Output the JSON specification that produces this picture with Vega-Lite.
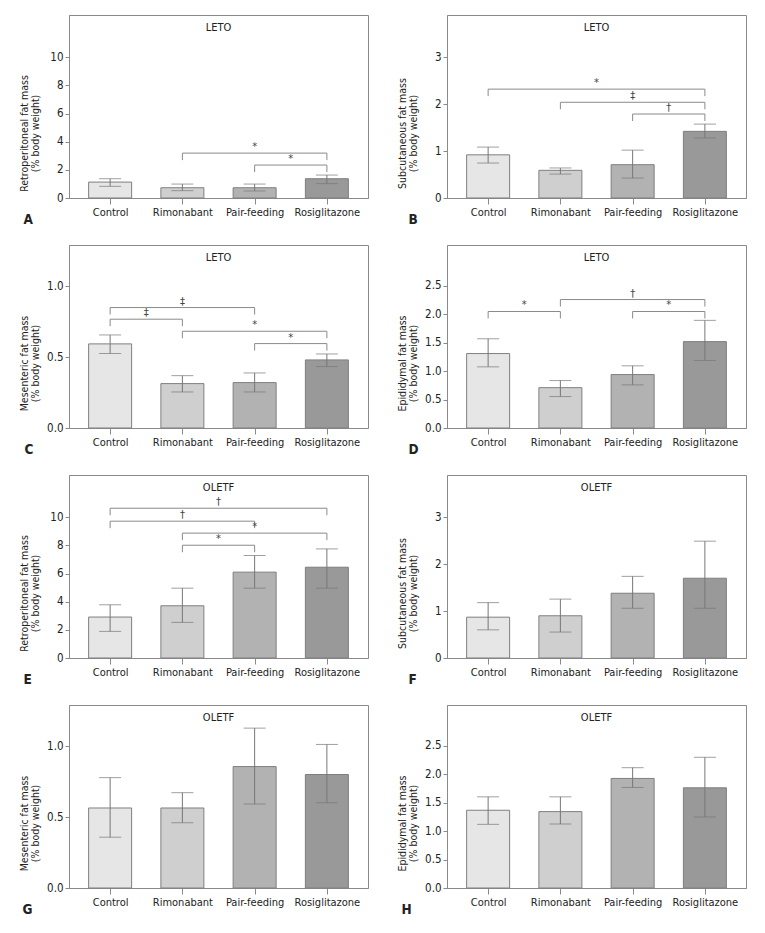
{
"$schema":"https://vega.github.io/schema/vega-lite/v6.json",
"padding":{"left":18,"top":14,"right":5,"bottom":5},
"background":"white",
"columns":2,
"spacing":{"row":47,"column":79},
"bounds":"flush",
"datasets":{
"bars":[
{"panel":"A","group":"Control","i":0,"mean":1.13,"lo":0.83,"hi":1.37},
{"panel":"A","group":"Rimonabant","i":1,"mean":0.73,"lo":0.52,"hi":0.99},
{"panel":"A","group":"Pair-feeding","i":2,"mean":0.73,"lo":0.50,"hi":0.99},
{"panel":"A","group":"Rosiglitazone","i":3,"mean":1.37,"lo":1.02,"hi":1.63},
{"panel":"B","group":"Control","i":0,"mean":0.92,"lo":0.745,"hi":1.085},
{"panel":"B","group":"Rimonabant","i":1,"mean":0.59,"lo":0.51,"hi":0.64},
{"panel":"B","group":"Pair-feeding","i":2,"mean":0.71,"lo":0.425,"hi":1.02},
{"panel":"B","group":"Rosiglitazone","i":3,"mean":1.42,"lo":1.28,"hi":1.575},
{"panel":"C","group":"Control","i":0,"mean":0.593,"lo":0.525,"hi":0.656},
{"panel":"C","group":"Rimonabant","i":1,"mean":0.313,"lo":0.254,"hi":0.369},
{"panel":"C","group":"Pair-feeding","i":2,"mean":0.32,"lo":0.254,"hi":0.388},
{"panel":"C","group":"Rosiglitazone","i":3,"mean":0.48,"lo":0.433,"hi":0.522},
{"panel":"D","group":"Control","i":0,"mean":1.31,"lo":1.076,"hi":1.57},
{"panel":"D","group":"Rimonabant","i":1,"mean":0.71,"lo":0.553,"hi":0.835},
{"panel":"D","group":"Pair-feeding","i":2,"mean":0.94,"lo":0.759,"hi":1.094},
{"panel":"D","group":"Rosiglitazone","i":3,"mean":1.52,"lo":1.188,"hi":1.894},
{"panel":"E","group":"Control","i":0,"mean":2.91,"lo":1.89,"hi":3.78},
{"panel":"E","group":"Rimonabant","i":1,"mean":3.71,"lo":2.53,"hi":4.96},
{"panel":"E","group":"Pair-feeding","i":2,"mean":6.10,"lo":4.96,"hi":7.28},
{"panel":"E","group":"Rosiglitazone","i":3,"mean":6.45,"lo":4.96,"hi":7.75},
{"panel":"F","group":"Control","i":0,"mean":0.87,"lo":0.6,"hi":1.18},
{"panel":"F","group":"Rimonabant","i":1,"mean":0.90,"lo":0.553,"hi":1.255},
{"panel":"F","group":"Pair-feeding","i":2,"mean":1.38,"lo":1.06,"hi":1.74},
{"panel":"F","group":"Rosiglitazone","i":3,"mean":1.70,"lo":1.06,"hi":2.49},
{"panel":"G","group":"Control","i":0,"mean":0.564,"lo":0.358,"hi":0.778},
{"panel":"G","group":"Rimonabant","i":1,"mean":0.564,"lo":0.46,"hi":0.672},
{"panel":"G","group":"Pair-feeding","i":2,"mean":0.856,"lo":0.592,"hi":1.127},
{"panel":"G","group":"Rosiglitazone","i":3,"mean":0.80,"lo":0.601,"hi":1.012},
{"panel":"H","group":"Control","i":0,"mean":1.368,"lo":1.12,"hi":1.604},
{"panel":"H","group":"Rimonabant","i":1,"mean":1.344,"lo":1.126,"hi":1.604},
{"panel":"H","group":"Pair-feeding","i":2,"mean":1.928,"lo":1.769,"hi":2.117},
{"panel":"H","group":"Rosiglitazone","i":3,"mean":1.763,"lo":1.25,"hi":2.30}
],
"brackets":[
{"panel":"A","x1":1,"x2":3,"xm":2,"level":3.19,"sym":"*"},
{"panel":"A","x1":2,"x2":3,"xm":2.5,"level":2.34,"sym":"*"},
{"panel":"B","x1":0,"x2":3,"xm":1.5,"level":2.32,"sym":"*"},
{"panel":"B","x1":1,"x2":3,"xm":2,"level":2.04,"sym":"‡"},
{"panel":"B","x1":2,"x2":3,"xm":2.5,"level":1.79,"sym":"†"},
{"panel":"C","x1":0,"x2":2,"xm":1,"level":0.849,"sym":"‡"},
{"panel":"C","x1":0,"x2":1,"xm":0.5,"level":0.767,"sym":"‡"},
{"panel":"C","x1":1,"x2":3,"xm":2,"level":0.682,"sym":"*"},
{"panel":"C","x1":2,"x2":3,"xm":2.5,"level":0.595,"sym":"*"},
{"panel":"D","x1":1,"x2":3,"xm":2,"level":2.26,"sym":"†"},
{"panel":"D","x1":0,"x2":1,"xm":0.5,"level":2.05,"sym":"*"},
{"panel":"D","x1":2,"x2":3,"xm":2.5,"level":2.05,"sym":"*"},
{"panel":"E","x1":0,"x2":3,"xm":1.5,"level":10.64,"sym":"†"},
{"panel":"E","x1":0,"x2":2,"xm":1,"level":9.72,"sym":"†"},
{"panel":"E","x1":1,"x2":3,"xm":2,"level":8.87,"sym":"*"},
{"panel":"E","x1":1,"x2":2,"xm":1.5,"level":8.01,"sym":"*"}
]
},
"concat":[
{"width":299,"height":183,"title":{"text":"LETO"},
 "layer":[
  {"data":{"name":"bars"},"transform":[{"filter":"datum.panel==='A'"}],
   "layer":[
    {"mark":{"type":"bar","width":43,"stroke":"#7f7f7f","strokeWidth":1},
     "encoding":{
      "x":{"field":"i","type":"quantitative","scale":{"domain":[-0.5,3.5],"nice":false,"zero":false},"axis":{"values":[0,1,2,3],"labelExpr":"['Control','Rimonabant','Pair-feeding','Rosiglitazone'][datum.value]","title":"A","titleX":-46,"titleY":25}},
      "y":{"field":"mean","type":"quantitative","scale":{"domain":[0,13],"nice":false},"axis":{"values":[0,2,4,6,8,10],"format":"d","title":["Retroperitoneal fat mass","(% body weight)"]}},
      "color":{"field":"group","type":"nominal","scale":{"domain":["Control","Rimonabant","Pair-feeding","Rosiglitazone"],"range":["#e6e6e6","#cfcfcf","#b2b2b2","#999999"]},"legend":null}}},
    {"mark":{"type":"rule","color":"#777777"},"encoding":{"x":{"field":"i","type":"quantitative"},"y":{"field":"lo","type":"quantitative"},"y2":{"field":"hi"}}},
    {"mark":{"type":"tick","orient":"horizontal","size":22,"thickness":1,"color":"#777777"},"encoding":{"x":{"field":"i","type":"quantitative"},"y":{"field":"hi","type":"quantitative"}}},
    {"mark":{"type":"tick","orient":"horizontal","size":22,"thickness":1,"color":"#777777"},"encoding":{"x":{"field":"i","type":"quantitative"},"y":{"field":"lo","type":"quantitative"}}}
   ]},
  {"data":{"name":"brackets"},"transform":[{"filter":"datum.panel==='A'"}],
   "layer":[
    {"mark":{"type":"rule","color":"#8a8a8a"},"encoding":{"x":{"field":"x1","type":"quantitative"},"x2":{"field":"x2"},"y":{"field":"level","type":"quantitative"}}},
    {"mark":{"type":"rule","color":"#8a8a8a","y2Offset":7},"encoding":{"x":{"field":"x1","type":"quantitative"},"y":{"field":"level","type":"quantitative"},"y2":{"field":"level"}}},
    {"mark":{"type":"rule","color":"#8a8a8a","y2Offset":7},"encoding":{"x":{"field":"x2","type":"quantitative"},"y":{"field":"level","type":"quantitative"},"y2":{"field":"level"}}},
    {"mark":{"type":"text","baseline":"bottom","dy":-1,"fontSize":11,"color":"#444444"},"encoding":{"x":{"field":"xm","type":"quantitative"},"y":{"field":"level","type":"quantitative"},"text":{"field":"sym"}}}
   ]}
 ]},
{"width":299,"height":183,"title":{"text":"LETO"},
 "layer":[
  {"data":{"name":"bars"},"transform":[{"filter":"datum.panel==='B'"}],
   "layer":[
    {"mark":{"type":"bar","width":43,"stroke":"#7f7f7f","strokeWidth":1},
     "encoding":{
      "x":{"field":"i","type":"quantitative","scale":{"domain":[-0.5,3.5],"nice":false,"zero":false},"axis":{"values":[0,1,2,3],"labelExpr":"['Control','Rimonabant','Pair-feeding','Rosiglitazone'][datum.value]","title":"B","titleX":-39,"titleY":25}},
      "y":{"field":"mean","type":"quantitative","scale":{"domain":[0,3.9],"nice":false},"axis":{"values":[0,1,2,3],"format":"d","title":["Subcutaneous fat mass","(% body weight)"]}},
      "color":{"field":"group","type":"nominal","scale":{"domain":["Control","Rimonabant","Pair-feeding","Rosiglitazone"],"range":["#e6e6e6","#cfcfcf","#b2b2b2","#999999"]},"legend":null}}},
    {"mark":{"type":"rule","color":"#777777"},"encoding":{"x":{"field":"i","type":"quantitative"},"y":{"field":"lo","type":"quantitative"},"y2":{"field":"hi"}}},
    {"mark":{"type":"tick","orient":"horizontal","size":22,"thickness":1,"color":"#777777"},"encoding":{"x":{"field":"i","type":"quantitative"},"y":{"field":"hi","type":"quantitative"}}},
    {"mark":{"type":"tick","orient":"horizontal","size":22,"thickness":1,"color":"#777777"},"encoding":{"x":{"field":"i","type":"quantitative"},"y":{"field":"lo","type":"quantitative"}}}
   ]},
  {"data":{"name":"brackets"},"transform":[{"filter":"datum.panel==='B'"}],
   "layer":[
    {"mark":{"type":"rule","color":"#8a8a8a"},"encoding":{"x":{"field":"x1","type":"quantitative"},"x2":{"field":"x2"},"y":{"field":"level","type":"quantitative"}}},
    {"mark":{"type":"rule","color":"#8a8a8a","y2Offset":7},"encoding":{"x":{"field":"x1","type":"quantitative"},"y":{"field":"level","type":"quantitative"},"y2":{"field":"level"}}},
    {"mark":{"type":"rule","color":"#8a8a8a","y2Offset":7},"encoding":{"x":{"field":"x2","type":"quantitative"},"y":{"field":"level","type":"quantitative"},"y2":{"field":"level"}}},
    {"mark":{"type":"text","baseline":"bottom","dy":-1,"fontSize":11,"color":"#444444"},"encoding":{"x":{"field":"xm","type":"quantitative"},"y":{"field":"level","type":"quantitative"},"text":{"field":"sym"}}}
   ]}
 ]},
{"width":299,"height":183,"title":{"text":"LETO"},
 "layer":[
  {"data":{"name":"bars"},"transform":[{"filter":"datum.panel==='C'"}],
   "layer":[
    {"mark":{"type":"bar","width":43,"stroke":"#7f7f7f","strokeWidth":1},
     "encoding":{
      "x":{"field":"i","type":"quantitative","scale":{"domain":[-0.5,3.5],"nice":false,"zero":false},"axis":{"values":[0,1,2,3],"labelExpr":"['Control','Rimonabant','Pair-feeding','Rosiglitazone'][datum.value]","title":"C","titleX":-45,"titleY":25}},
      "y":{"field":"mean","type":"quantitative","scale":{"domain":[0,1.29],"nice":false},"axis":{"values":[0,0.5,1],"format":".1f","title":["Mesenteric fat mass","(% body weight)"]}},
      "color":{"field":"group","type":"nominal","scale":{"domain":["Control","Rimonabant","Pair-feeding","Rosiglitazone"],"range":["#e6e6e6","#cfcfcf","#b2b2b2","#999999"]},"legend":null}}},
    {"mark":{"type":"rule","color":"#777777"},"encoding":{"x":{"field":"i","type":"quantitative"},"y":{"field":"lo","type":"quantitative"},"y2":{"field":"hi"}}},
    {"mark":{"type":"tick","orient":"horizontal","size":22,"thickness":1,"color":"#777777"},"encoding":{"x":{"field":"i","type":"quantitative"},"y":{"field":"hi","type":"quantitative"}}},
    {"mark":{"type":"tick","orient":"horizontal","size":22,"thickness":1,"color":"#777777"},"encoding":{"x":{"field":"i","type":"quantitative"},"y":{"field":"lo","type":"quantitative"}}}
   ]},
  {"data":{"name":"brackets"},"transform":[{"filter":"datum.panel==='C'"}],
   "layer":[
    {"mark":{"type":"rule","color":"#8a8a8a"},"encoding":{"x":{"field":"x1","type":"quantitative"},"x2":{"field":"x2"},"y":{"field":"level","type":"quantitative"}}},
    {"mark":{"type":"rule","color":"#8a8a8a","y2Offset":7},"encoding":{"x":{"field":"x1","type":"quantitative"},"y":{"field":"level","type":"quantitative"},"y2":{"field":"level"}}},
    {"mark":{"type":"rule","color":"#8a8a8a","y2Offset":7},"encoding":{"x":{"field":"x2","type":"quantitative"},"y":{"field":"level","type":"quantitative"},"y2":{"field":"level"}}},
    {"mark":{"type":"text","baseline":"bottom","dy":-1,"fontSize":11,"color":"#444444"},"encoding":{"x":{"field":"xm","type":"quantitative"},"y":{"field":"level","type":"quantitative"},"text":{"field":"sym"}}}
   ]}
 ]},
{"width":299,"height":183,"title":{"text":"LETO"},
 "layer":[
  {"data":{"name":"bars"},"transform":[{"filter":"datum.panel==='D'"}],
   "layer":[
    {"mark":{"type":"bar","width":43,"stroke":"#7f7f7f","strokeWidth":1},
     "encoding":{
      "x":{"field":"i","type":"quantitative","scale":{"domain":[-0.5,3.5],"nice":false,"zero":false},"axis":{"values":[0,1,2,3],"labelExpr":"['Control','Rimonabant','Pair-feeding','Rosiglitazone'][datum.value]","title":"D","titleX":-39,"titleY":25}},
      "y":{"field":"mean","type":"quantitative","scale":{"domain":[0,3.22],"nice":false},"axis":{"values":[0,0.5,1,1.5,2,2.5],"format":".1f","title":["Epididymal fat mass","(% body weight)"]}},
      "color":{"field":"group","type":"nominal","scale":{"domain":["Control","Rimonabant","Pair-feeding","Rosiglitazone"],"range":["#e6e6e6","#cfcfcf","#b2b2b2","#999999"]},"legend":null}}},
    {"mark":{"type":"rule","color":"#777777"},"encoding":{"x":{"field":"i","type":"quantitative"},"y":{"field":"lo","type":"quantitative"},"y2":{"field":"hi"}}},
    {"mark":{"type":"tick","orient":"horizontal","size":22,"thickness":1,"color":"#777777"},"encoding":{"x":{"field":"i","type":"quantitative"},"y":{"field":"hi","type":"quantitative"}}},
    {"mark":{"type":"tick","orient":"horizontal","size":22,"thickness":1,"color":"#777777"},"encoding":{"x":{"field":"i","type":"quantitative"},"y":{"field":"lo","type":"quantitative"}}}
   ]},
  {"data":{"name":"brackets"},"transform":[{"filter":"datum.panel==='D'"}],
   "layer":[
    {"mark":{"type":"rule","color":"#8a8a8a"},"encoding":{"x":{"field":"x1","type":"quantitative"},"x2":{"field":"x2"},"y":{"field":"level","type":"quantitative"}}},
    {"mark":{"type":"rule","color":"#8a8a8a","y2Offset":7},"encoding":{"x":{"field":"x1","type":"quantitative"},"y":{"field":"level","type":"quantitative"},"y2":{"field":"level"}}},
    {"mark":{"type":"rule","color":"#8a8a8a","y2Offset":7},"encoding":{"x":{"field":"x2","type":"quantitative"},"y":{"field":"level","type":"quantitative"},"y2":{"field":"level"}}},
    {"mark":{"type":"text","baseline":"bottom","dy":-1,"fontSize":11,"color":"#444444"},"encoding":{"x":{"field":"xm","type":"quantitative"},"y":{"field":"level","type":"quantitative"},"text":{"field":"sym"}}}
   ]}
 ]},
{"width":299,"height":183,"title":{"text":"OLETF"},
 "layer":[
  {"data":{"name":"bars"},"transform":[{"filter":"datum.panel==='E'"}],
   "layer":[
    {"mark":{"type":"bar","width":43,"stroke":"#7f7f7f","strokeWidth":1},
     "encoding":{
      "x":{"field":"i","type":"quantitative","scale":{"domain":[-0.5,3.5],"nice":false,"zero":false},"axis":{"values":[0,1,2,3],"labelExpr":"['Control','Rimonabant','Pair-feeding','Rosiglitazone'][datum.value]","title":"E","titleX":-46,"titleY":25}},
      "y":{"field":"mean","type":"quantitative","scale":{"domain":[0,13],"nice":false},"axis":{"values":[0,2,4,6,8,10],"format":"d","title":["Retroperitoneal fat mass","(% body weight)"]}},
      "color":{"field":"group","type":"nominal","scale":{"domain":["Control","Rimonabant","Pair-feeding","Rosiglitazone"],"range":["#e6e6e6","#cfcfcf","#b2b2b2","#999999"]},"legend":null}}},
    {"mark":{"type":"rule","color":"#777777"},"encoding":{"x":{"field":"i","type":"quantitative"},"y":{"field":"lo","type":"quantitative"},"y2":{"field":"hi"}}},
    {"mark":{"type":"tick","orient":"horizontal","size":22,"thickness":1,"color":"#777777"},"encoding":{"x":{"field":"i","type":"quantitative"},"y":{"field":"hi","type":"quantitative"}}},
    {"mark":{"type":"tick","orient":"horizontal","size":22,"thickness":1,"color":"#777777"},"encoding":{"x":{"field":"i","type":"quantitative"},"y":{"field":"lo","type":"quantitative"}}}
   ]},
  {"data":{"name":"brackets"},"transform":[{"filter":"datum.panel==='E'"}],
   "layer":[
    {"mark":{"type":"rule","color":"#8a8a8a"},"encoding":{"x":{"field":"x1","type":"quantitative"},"x2":{"field":"x2"},"y":{"field":"level","type":"quantitative"}}},
    {"mark":{"type":"rule","color":"#8a8a8a","y2Offset":7},"encoding":{"x":{"field":"x1","type":"quantitative"},"y":{"field":"level","type":"quantitative"},"y2":{"field":"level"}}},
    {"mark":{"type":"rule","color":"#8a8a8a","y2Offset":7},"encoding":{"x":{"field":"x2","type":"quantitative"},"y":{"field":"level","type":"quantitative"},"y2":{"field":"level"}}},
    {"mark":{"type":"text","baseline":"bottom","dy":-1,"fontSize":11,"color":"#444444"},"encoding":{"x":{"field":"xm","type":"quantitative"},"y":{"field":"level","type":"quantitative"},"text":{"field":"sym"}}}
   ]}
 ]},
{"width":299,"height":183,"title":{"text":"OLETF"},
 "data":{"name":"bars"},"transform":[{"filter":"datum.panel==='F'"}],
 "layer":[
    {"mark":{"type":"bar","width":43,"stroke":"#7f7f7f","strokeWidth":1},
     "encoding":{
      "x":{"field":"i","type":"quantitative","scale":{"domain":[-0.5,3.5],"nice":false,"zero":false},"axis":{"values":[0,1,2,3],"labelExpr":"['Control','Rimonabant','Pair-feeding','Rosiglitazone'][datum.value]","title":"F","titleX":-39,"titleY":25}},
      "y":{"field":"mean","type":"quantitative","scale":{"domain":[0,3.9],"nice":false},"axis":{"values":[0,1,2,3],"format":"d","title":["Subcutaneous fat mass","(% body weight)"]}},
      "color":{"field":"group","type":"nominal","scale":{"domain":["Control","Rimonabant","Pair-feeding","Rosiglitazone"],"range":["#e6e6e6","#cfcfcf","#b2b2b2","#999999"]},"legend":null}}},
    {"mark":{"type":"rule","color":"#777777"},"encoding":{"x":{"field":"i","type":"quantitative"},"y":{"field":"lo","type":"quantitative"},"y2":{"field":"hi"}}},
    {"mark":{"type":"tick","orient":"horizontal","size":22,"thickness":1,"color":"#777777"},"encoding":{"x":{"field":"i","type":"quantitative"},"y":{"field":"hi","type":"quantitative"}}},
    {"mark":{"type":"tick","orient":"horizontal","size":22,"thickness":1,"color":"#777777"},"encoding":{"x":{"field":"i","type":"quantitative"},"y":{"field":"lo","type":"quantitative"}}}
 ]},
{"width":299,"height":183,"title":{"text":"OLETF"},
 "data":{"name":"bars"},"transform":[{"filter":"datum.panel==='G'"}],
 "layer":[
    {"mark":{"type":"bar","width":43,"stroke":"#7f7f7f","strokeWidth":1},
     "encoding":{
      "x":{"field":"i","type":"quantitative","scale":{"domain":[-0.5,3.5],"nice":false,"zero":false},"axis":{"values":[0,1,2,3],"labelExpr":"['Control','Rimonabant','Pair-feeding','Rosiglitazone'][datum.value]","title":"G","titleX":-47,"titleY":25}},
      "y":{"field":"mean","type":"quantitative","scale":{"domain":[0,1.29],"nice":false},"axis":{"values":[0,0.5,1],"format":".1f","title":["Mesenteric fat mass","(% body weight)"]}},
      "color":{"field":"group","type":"nominal","scale":{"domain":["Control","Rimonabant","Pair-feeding","Rosiglitazone"],"range":["#e6e6e6","#cfcfcf","#b2b2b2","#999999"]},"legend":null}}},
    {"mark":{"type":"rule","color":"#777777"},"encoding":{"x":{"field":"i","type":"quantitative"},"y":{"field":"lo","type":"quantitative"},"y2":{"field":"hi"}}},
    {"mark":{"type":"tick","orient":"horizontal","size":22,"thickness":1,"color":"#777777"},"encoding":{"x":{"field":"i","type":"quantitative"},"y":{"field":"hi","type":"quantitative"}}},
    {"mark":{"type":"tick","orient":"horizontal","size":22,"thickness":1,"color":"#777777"},"encoding":{"x":{"field":"i","type":"quantitative"},"y":{"field":"lo","type":"quantitative"}}}
 ]},
{"width":299,"height":183,"title":{"text":"OLETF"},
 "data":{"name":"bars"},"transform":[{"filter":"datum.panel==='H'"}],
 "layer":[
    {"mark":{"type":"bar","width":43,"stroke":"#7f7f7f","strokeWidth":1},
     "encoding":{
      "x":{"field":"i","type":"quantitative","scale":{"domain":[-0.5,3.5],"nice":false,"zero":false},"axis":{"values":[0,1,2,3],"labelExpr":"['Control','Rimonabant','Pair-feeding','Rosiglitazone'][datum.value]","title":"H","titleX":-46,"titleY":25}},
      "y":{"field":"mean","type":"quantitative","scale":{"domain":[0,3.22],"nice":false},"axis":{"values":[0,0.5,1,1.5,2,2.5],"format":".1f","title":["Epididymal fat mass","(% body weight)"]}},
      "color":{"field":"group","type":"nominal","scale":{"domain":["Control","Rimonabant","Pair-feeding","Rosiglitazone"],"range":["#e6e6e6","#cfcfcf","#b2b2b2","#999999"]},"legend":null}}},
    {"mark":{"type":"rule","color":"#777777"},"encoding":{"x":{"field":"i","type":"quantitative"},"y":{"field":"lo","type":"quantitative"},"y2":{"field":"hi"}}},
    {"mark":{"type":"tick","orient":"horizontal","size":22,"thickness":1,"color":"#777777"},"encoding":{"x":{"field":"i","type":"quantitative"},"y":{"field":"hi","type":"quantitative"}}},
    {"mark":{"type":"tick","orient":"horizontal","size":22,"thickness":1,"color":"#777777"},"encoding":{"x":{"field":"i","type":"quantitative"},"y":{"field":"lo","type":"quantitative"}}}
 ]}
],
"config":{
 "font":"Liberation Sans Narrow, DejaVu Sans Condensed, sans-serif",
 "view":{"stroke":"#8a8a8a","strokeWidth":1},
 "title":{"fontSize":11,"fontWeight":"normal","color":"#222222","offset":-18,"baseline":"alphabetic","frame":"group","anchor":"middle","font":"Liberation Sans Narrow, DejaVu Sans Condensed, sans-serif"},
 "text":{"font":"Liberation Sans Narrow, DejaVu Sans Condensed, sans-serif"},
 "axis":{"grid":false,"domainColor":"#8a8a8a","tickColor":"#8a8a8a","labelColor":"#222222","titleColor":"#222222","labelFont":"Liberation Sans Narrow, DejaVu Sans Condensed, sans-serif","titleFont":"Liberation Sans Narrow, DejaVu Sans Condensed, sans-serif","labelFontSize":11,"labelOverlap":false,"labelFlush":false,"tickCount":20},
 "axisY":{"tickSize":4,"labelPadding":2,"titleX":-50,"titleY":118,"titleAngle":-90,"titleAlign":"center","titleBaseline":"top","titleFontSize":10.5,"titleFontWeight":"normal","titleLineHeight":11,"labelFontSize":11.5},
 "axisX":{"tickSize":6,"labelPadding":2,"titleAlign":"left","titleBaseline":"alphabetic","titleFontSize":13.5,"titleFontWeight":"bold","titleAngle":0}
}
}
